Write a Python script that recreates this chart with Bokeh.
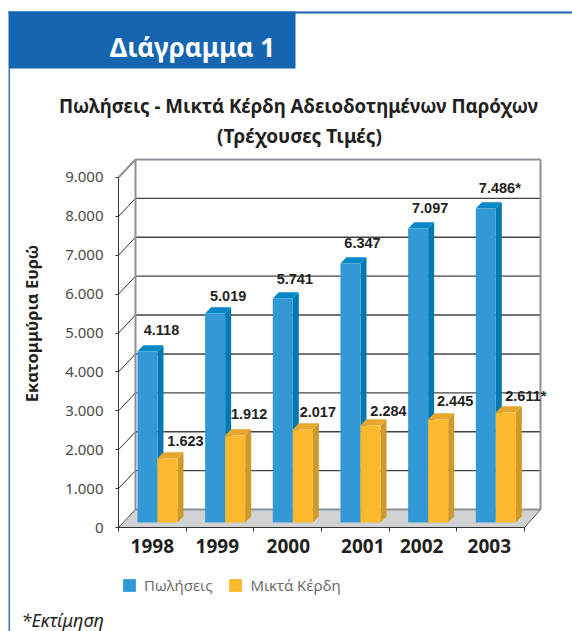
from bokeh.plotting import figure
from bokeh.models import (BoxAnnotation, ColumnDataSource, FixedTicker, Label, Legend, LegendItem)
from bokeh.core.properties import value
from bokeh.embed import file_html
from bokeh.resources import INLINE

# ---- data ----
years = ["1998", "1999", "2000", "2001", "2002", "2003"]
sales_labels = ["4.118", "5.019", "5.741", "6.347", "7.097", "7.486*"]
profit_labels = ["1.623", "1.912", "2.017", "2.284", "2.445", "2.611*"]
# heights of the bars as drawn, read against the axis (they differ from the printed labels)
sales_drawn = [4397, 5374, 5760, 6660, 7560, 8074]
profit_drawn = [1646, 2237, 2391, 2494, 2648, 2828]
y_ticks = [0, 1000, 2000, 3000, 4000, 5000, 6000, 7000, 8000, 9000]
y_tick_labels = ["0", "1.000", "2.000", "3.000", "4.000", "5.000", "6.000", "7.000", "8.000", "9.000"]
year_tick_pos = [0.50, 1.46, 2.51, 3.61, 4.48, 5.48]

# ---- layout (picture pixels) ----
W, H = 572, 631
AX_L, AX_B = 118, 527
PX_X = 67.67            # pixels per category
PX_Y = 38.89 / 1000     # pixels per value unit


def dx(px):
    return px / PX_X


def dy(px):
    return px / PX_Y


def X(px):
    return (px - AX_L) / PX_X


def Y(px):
    return (AX_B - px) / PX_Y


p = figure(width=W, height=H, output_backend="svg", toolbar_location=None,
           x_range=(X(0), X(W)), y_range=(Y(H), Y(0)),
           min_border_left=0, min_border_top=0, min_border_right=0, min_border_bottom=0)
p.outline_line_color = None
p.xgrid.visible = False
p.ygrid.visible = False

# axes
ya = p.yaxis[0]
ya.fixed_location = 0
ya.ticker = FixedTicker(ticks=y_ticks)
ya.major_label_overrides = dict(zip(y_ticks, y_tick_labels))
ya.bounds = (0, 9000)
ya.axis_line_color = "#333333"
ya.major_tick_line_color = "#333333"
ya.major_tick_in = 0
ya.major_tick_out = 3
ya.minor_tick_line_color = None
ya.major_label_standoff = 12
ya.major_label_text_font = "Noto Sans"
ya.major_label_text_font_size = "15px"
ya.major_label_text_color = "#4a4a4a"

xa = p.xaxis[0]
xa.fixed_location = 0
xa.ticker = FixedTicker(ticks=year_tick_pos, minor_ticks=[0, 1, 2, 3, 4, 5, 6])
xa.major_label_overrides = dict(zip(year_tick_pos, years))
xa.bounds = (0, 6)
xa.axis_line_color = "#333333"
xa.major_tick_line_color = None
xa.minor_tick_line_color = "#333333"
xa.minor_tick_in = 0
xa.minor_tick_out = 4
xa.major_label_standoff = 5
xa.major_label_text_font = "Noto Sans"
xa.major_label_text_font_style = "bold"
xa.major_label_text_font_size = "19px"
xa.major_label_text_color = "#231f20"

# 3-D box
DX, DY = dx(17), dy(18)
p.patch([0, DX, X(540), 6], [0, DY, DY, 0], fill_color="#d1d2d4", line_color=None)
gy = y_ticks[1:-1]
p.multi_line([[DX, X(540)] for _ in gy], [[v + DY, v + DY] for v in gy], line_color="#444444", line_width=1.4)
p.multi_line([[0, DX] for _ in gy], [[v, v + DY] for v in gy], line_color="#333333", line_width=1)
grey = "#8c9196"
p.multi_line([[DX, DX], [X(540), X(540)], [DX, X(540)], [DX, X(540)], [0, DX]],
             [[DY, 9000 + DY], [DY, 9000 + DY], [9000 + DY, 9000 + DY], [DY, DY], [9000, 9000 + DY]],
             line_color=grey, line_width=2)
p.line([0, DX], [0, DY], line_color="#555555", line_width=1)
p.line([6, X(540)], [0, DY], line_color="#555555", line_width=1)

# bars
BAR_OFF, BAR_W = 0.28, 0.296
BASE = dy(5)
SX, SY = dx(6), dy(6.3)


def bars(values, shift, front, side, top):
    left = [i + BAR_OFF + shift for i in range(len(values))]
    right = [v + BAR_W for v in left]
    tops = [BASE + v for v in values]
    p.patches([[r, r + SX, r + SX, r] for r in right],
              [[BASE, BASE + SY, t + SY, t] for t in tops],
              fill_color=side, line_color=None)
    p.patches([[l, l + SX, r + SX, r] for l, r in zip(left, right)],
              [[t, t + SY, t + SY, t] for t in tops],
              fill_color=top, line_color=None)
    return p.quad(left=left, right=right, bottom=BASE, top=tops, fill_color=front, line_color=None)


r_sales = bars(sales_drawn, 0, "#3399d6", "#0079b0", "#0587c8")
r_profit = bars(profit_drawn, BAR_W, "#fdb92d", "#d09a28", "#e5a72e")

# value labels
sales_off = [(14, -22), (13, -18), (12, -19), (12, -20), (12, -20), (14, -21)]
profit_off = [(18, -17), (14, -22), (15, -18), (18, -15), (17, -19), (20, -17)]
for labels, vals, shift, off in ((sales_labels, sales_drawn, 0, sales_off),
                                 (profit_labels, profit_drawn, BAR_W, profit_off)):
    src = ColumnDataSource(dict(
        x=[i + BAR_OFF + shift + BAR_W / 2 for i in range(len(vals))],
        y=[BASE + v for v in vals],
        t=labels,
        xo=[o[0] for o in off],
        yo=[o[1] for o in off]))
    p.text("x", "y", text="t", source=src, x_offset="xo", y_offset="yo",
           text_font=value("Liberation Sans"), text_font_style="bold",
           text_font_size="14.5px", text_color="#231f20",
           text_align="center", text_baseline="middle")

# legend
legend = Legend(items=[LegendItem(label="Πωλήσεις", renderers=[r_sales]),
                       LegendItem(label="Μικτά Κέρδη", renderers=[r_profit])],
                orientation="horizontal", location=(121, H - 595),
                glyph_width=16, glyph_height=16, label_standoff=7, spacing=15,
                padding=0, margin=0, border_line_color=None, background_fill_color=None,
                background_fill_alpha=0, label_text_font="Open Sans", label_text_font_size="15px",
                label_text_color="#666666")
p.add_layout(legend)

# banner and frame lines
BLUE = "#1565b0"
p.add_layout(BoxAnnotation(left=X(8), right=X(295), bottom=Y(68), top=Y(11), fill_color=BLUE,
                           fill_alpha=1, line_color=None))
p.add_layout(BoxAnnotation(left=X(8), right=X(572), bottom=Y(13), top=Y(11), fill_color=BLUE,
                           fill_alpha=1, line_color=None))
p.add_layout(BoxAnnotation(left=X(8), right=X(9.5), bottom=Y(631), top=Y(68), fill_color="#3a78c0",
                           fill_alpha=1, line_color=None))


def text(s, x, y, size, color="#231f20", style="bold", font="Noto Sans", align="center", angle=0):
    p.add_layout(Label(x=X(x), y=Y(y), text=s, text_font=font, text_font_style=style,
                       text_font_size=size, text_color=color, text_align=align,
                       text_baseline="middle", angle=angle, angle_units="deg"))


text("Διάγραμμα 1", 192, 46, "26px", color="#ffffff")
text("Πωλήσεις - Μικτά Κέρδη Αδειοδοτημένων Παρόχων", 298, 105, "18.7px")
text("(Τρέχουσες Τιμές)", 299, 135, "19px")
text("Εκατομμύρια Ευρώ", 31, 323, "16.5px", angle=90)
text("*Εκτίμηση", 21, 619, "18px", style="italic", align="left")

open("out.html", "w").write(file_html(p, INLINE))
